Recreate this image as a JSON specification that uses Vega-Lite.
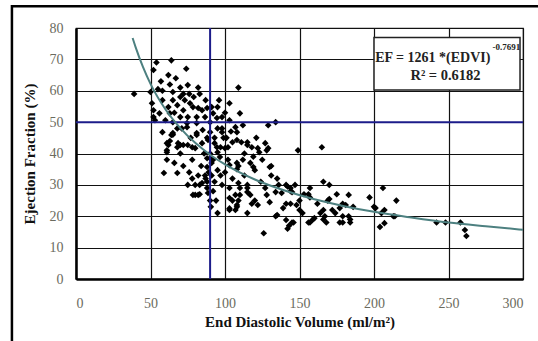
{
  "$schema": "https://vega.github.io/schema/vega-lite/v6.json",
  "width": 447,
  "height": 251,
  "autosize": {"type": "none"},
  "padding": {"left": 76, "top": 28, "right": 15, "bottom": 62},
  "background": "white",
  "config": {
    "view": {"stroke": "#222", "strokeWidth": 1.2},
    "font": "Liberation Serif",
    "axis": {
      "labelFont": "Liberation Serif",
      "titleFont": "Liberation Serif",
      "labelFontSize": 14,
      "labelColor": "#6b6b5e",
      "labelOverlap": false,
      "titleFontSize": 15,
      "titleFontWeight": "bold",
      "titleColor": "#111",
      "gridColor": "#111",
      "gridOpacity": 1,
      "gridWidth": 1.2,
      "domainColor": "#000",
      "domainWidth": 2.5,
      "ticks": false
    },
    "axisY": {"tickCount": 9},
    "axisX": {"tickCount": 7}
  },
  "datasets": {
    "pts": [
      {"edv":39,"ef":59},{"edv":64,"ef":69.7},{"edv":54,"ef":69},{"edv":74,"ef":67},{"edv":62,"ef":65},{"edv":52,"ef":66.6},{"edv":63,"ef":62},{"edv":70,"ef":61},{"edv":75,"ef":61.8},{"edv":82,"ef":61},{"edv":83,"ef":59},{"edv":55,"ef":60.5},{"edv":50,"ef":59.6},{"edv":65,"ef":59.6},{"edv":72,"ef":59},{"edv":76,"ef":59},{"edv":51,"ef":56},{"edv":52,"ef":53.8},{"edv":58,"ef":57},{"edv":65,"ef":57},{"edv":68,"ef":55.4},{"edv":70,"ef":58},{"edv":73,"ef":57},{"edv":76.5,"ef":56},{"edv":78.5,"ef":54.8},{"edv":82,"ef":54.5},{"edv":84.6,"ef":53.8},{"edv":88,"ef":54.5},{"edv":91,"ef":54.8},{"edv":92,"ef":52.8},{"edv":62,"ef":54.8},{"edv":63,"ef":52.8},{"edv":66,"ef":53},{"edv":72,"ef":53.8},{"edv":70,"ef":51.6},{"edv":75,"ef":51.6},{"edv":81,"ef":51.6},{"edv":86.6,"ef":51.6},{"edv":60,"ef":50.6},{"edv":65,"ef":50},{"edv":52,"ef":51.6},{"edv":56,"ef":52.8},{"edv":53,"ef":50.6},{"edv":74.5,"ef":49.7},{"edv":81,"ef":49.7},{"edv":90,"ef":50},{"edv":94.6,"ef":51.3},{"edv":58,"ef":60},{"edv":109,"ef":61},
      {"edv":58,"ef":46.8},{"edv":65,"ef":46},{"edv":74.5,"ef":48.4},{"edv":81,"ef":46.5},{"edv":85,"ef":47.5},{"edv":90,"ef":46.8},{"edv":98,"ef":48},{"edv":61,"ef":43.3},{"edv":70,"ef":42.7},{"edv":78,"ef":42},{"edv":84.6,"ef":43.3},{"edv":88.6,"ef":44.3},{"edv":94.6,"ef":42},{"edv":61,"ef":40.4},{"edv":78,"ef":38},{"edv":90,"ef":40},{"edv":96.6,"ef":38.9},{"edv":103,"ef":36.3},{"edv":108,"ef":37},{"edv":61,"ef":38},{"edv":92,"ef":38},{"edv":88,"ef":38.5},
      {"edv":64,"ef":45.9},{"edv":63,"ef":44},{"edv":68.5,"ef":43.3},{"edv":75,"ef":42.7},{"edv":80,"ef":41.7},{"edv":81,"ef":45.9},{"edv":88,"ef":45},{"edv":90,"ef":38.5},{"edv":91,"ef":37},{"edv":88,"ef":35.7},{"edv":91,"ef":33},{"edv":86.6,"ef":33},{"edv":84.6,"ef":30.6},{"edv":88,"ef":29},{"edv":88.6,"ef":27.4},{"edv":82,"ef":26.8},{"edv":78.5,"ef":26.8},{"edv":90,"ef":25},
      {"edv":61,"ef":41},{"edv":62,"ef":42.7},{"edv":65,"ef":46.5},{"edv":68,"ef":42},{"edv":72,"ef":42.7},{"edv":78,"ef":32},{"edv":75,"ef":30},{"edv":80,"ef":30},{"edv":83,"ef":30},{"edv":80,"ef":26.8},{"edv":88,"ef":31},{"edv":89,"ef":34},{"edv":59,"ef":33.8},{"edv":68,"ef":33.8},
      {"edv":103,"ef":56},{"edv":110,"ef":52.8},{"edv":103,"ef":50.6},{"edv":95,"ef":54.8},{"edv":98,"ef":51.6},{"edv":95,"ef":48},{"edv":98,"ef":46.8},{"edv":99,"ef":45},{"edv":107,"ef":48.4},{"edv":108,"ef":46.8},{"edv":108,"ef":44.3},{"edv":111,"ef":43.6},{"edv":115,"ef":43.6},{"edv":115,"ef":42.7},{"edv":118,"ef":42},{"edv":121,"ef":45},{"edv":122,"ef":41.7},{"edv":127,"ef":43.3},{"edv":128,"ef":41},{"edv":129,"ef":49},{"edv":134,"ef":50},{"edv":93,"ef":45},{"edv":93,"ef":43.3},{"edv":97,"ef":42},{"edv":100,"ef":41.7},{"edv":102,"ef":42},{"edv":105,"ef":43.6},{"edv":101,"ef":45},{"edv":95,"ef":40.4},{"edv":123,"ef":40.4},{"edv":129,"ef":41.7},{"edv":131,"ef":36},{"edv":149,"ef":41},{"edv":165,"ef":42},
      {"edv":95,"ef":34.7},{"edv":97,"ef":33},{"edv":109,"ef":36},{"edv":108,"ef":35},{"edv":119,"ef":35.7},{"edv":120,"ef":34.7},{"edv":130,"ef":35.7},{"edv":131,"ef":33},{"edv":135,"ef":32},{"edv":141,"ef":30},{"edv":142,"ef":29.5},{"edv":145,"ef":27.7},{"edv":103,"ef":29},{"edv":109,"ef":30.6},{"edv":110,"ef":29},{"edv":115,"ef":29},{"edv":115,"ef":27.7},{"edv":107,"ef":26.8},{"edv":103,"ef":25.8},{"edv":109,"ef":25},{"edv":108,"ef":23.6},{"edv":117,"ef":26.8},{"edv":120,"ef":25},{"edv":122,"ef":23.6},{"edv":118,"ef":24},{"edv":103,"ef":22},{"edv":107,"ef":22},{"edv":115,"ef":21},{"edv":95,"ef":21},{"edv":128,"ef":26.8},{"edv":130,"ef":24.5},{"edv":134,"ef":27.7},{"edv":135,"ef":20.4},{"edv":139,"ef":22.6},{"edv":141,"ef":24},{"edv":141,"ef":18.8},{"edv":143,"ef":17},{"edv":126,"ef":14.6},{"edv":138,"ef":27.4},
      {"edv":83,"ef":27},{"edv":87,"ef":32},{"edv":90.5,"ef":23},{"edv":103,"ef":22.5},{"edv":108,"ef":23},{"edv":105,"ef":25},{"edv":110,"ef":26.8},{"edv":115,"ef":30},
      {"edv":102,"ef":38},{"edv":112,"ef":38},{"edv":117,"ef":37},{"edv":125,"ef":38},{"edv":113,"ef":33},{"edv":105,"ef":32},{"edv":92,"ef":28},{"edv":93,"ef":31},{"edv":100,"ef":34},{"edv":124,"ef":31},{"edv":127,"ef":29},{"edv":98,"ef":30},{"edv":113,"ef":40},{"edv":119,"ef":39},{"edv":104,"ef":47},{"edv":112,"ef":49},{"edv":100,"ef":53},{"edv":96,"ef":57},{"edv":87,"ef":57},{"edv":79,"ef":58},{"edv":67,"ef":64},{"edv":57,"ef":63},{"edv":71,"ef":48},{"edv":68,"ef":48},{"edv":77,"ef":45},{"edv":86,"ef":40},{"edv":72,"ef":36},{"edv":76,"ef":34},{"edv":84,"ef":36},{"edv":70,"ef":40},{"edv":66,"ef":37},{"edv":82,"ef":33},{"edv":94,"ef":25},
      {"edv":147,"ef":30},{"edv":144,"ef":28},{"edv":134,"ef":20},{"edv":142,"ef":16},{"edv":146,"ef":18},{"edv":157,"ef":29},{"edv":157,"ef":26},{"edv":156,"ef":18},{"edv":159,"ef":19},{"edv":166,"ef":31},{"edv":170,"ef":30},{"edv":169,"ef":25},{"edv":166,"ef":19},{"edv":168,"ef":18},{"edv":174,"ef":21},{"edv":179,"ef":20},{"edv":183,"ef":26.8},{"edv":181,"ef":23.6},{"edv":184,"ef":19},{"edv":179,"ef":18},{"edv":197,"ef":26},{"edv":206,"ef":29},{"edv":215,"ef":25},{"edv":200,"ef":23},{"edv":207,"ef":22},{"edv":205,"ef":21},{"edv":204,"ef":16.6},{"edv":207,"ef":17.8},{"edv":213,"ef":20},{"edv":214,"ef":20},{"edv":242,"ef":18},{"edv":248,"ef":18},{"edv":258,"ef":18},{"edv":261,"ef":15.6},{"edv":262,"ef":13.7},{"edv":201,"ef":22.6},
      {"edv":156,"ef":27},{"edv":144,"ef":29},{"edv":170,"ef":25.5},{"edv":179,"ef":24},{"edv":177,"ef":22.6},{"edv":166,"ef":22},{"edv":164,"ef":21},{"edv":172,"ef":22},{"edv":167,"ef":20},{"edv":157,"ef":18},{"edv":160,"ef":19.4},{"edv":177,"ef":18},{"edv":183,"ef":20},{"edv":184,"ef":18},{"edv":148,"ef":23.6},{"edv":150,"ef":22},{"edv":152,"ef":21},{"edv":144,"ef":24},{"edv":145,"ef":18},{"edv":136,"ef":30},{"edv":150,"ef":25},{"edv":153,"ef":27},{"edv":162,"ef":24},{"edv":175,"ef":27},{"edv":186,"ef":23}
    ],
    "fit": [
      {"edv":38,"ef":76.8},{"edv":40,"ef":73.9},{"edv":45,"ef":67.5},{"edv":50,"ef":62.2},{"edv":60,"ef":54.1},{"edv":70,"ef":48.1},{"edv":80,"ef":43.4},{"edv":90,"ef":39.6},{"edv":100,"ef":36.5},{"edv":120,"ef":31.7},{"edv":140,"ef":28.2},{"edv":160,"ef":25.4},{"edv":180,"ef":23.2},{"edv":200,"ef":21.4},{"edv":225,"ef":19.6},{"edv":250,"ef":18.0},{"edv":275,"ef":16.8},{"edv":300,"ef":15.7}
    ]
  },
  "layer": [
    {
      "data": {"name": "pts"},
      "mark": {"type": "point", "shape": "diamond", "filled": true, "color": "#000", "size": 44, "opacity": 1},
      "encoding": {
        "x": {"field": "edv", "type": "quantitative", "scale": {"domain": [0, 300], "nice": false, "zero": false},
              "axis": {"values": [0, 50, 100, 150, 200, 250, 300], "tickCount": 7, "title": "End Diastolic Volume (ml/m²)", "labelPadding": 17, "titlePadding": 4, "grid": true}},
        "y": {"field": "ef", "type": "quantitative", "scale": {"domain": [0, 80], "nice": false, "zero": false},
              "axis": {"values": [0, 10, 20, 30, 40, 50, 60, 70, 80], "tickCount": 9, "title": "Ejection Fraction (%)", "labelPadding": 13, "titlePadding": 12, "grid": true}}
      }
    },
    {
      "data": {"values": [{}]},
      "mark": {"type": "rule", "color": "#1c1c8a", "strokeWidth": 2},
      "encoding": {"x": {"datum": 90}, "y": {"datum": 0}, "y2": {"datum": 80}}
    },
    {
      "data": {"values": [{}]},
      "mark": {"type": "rule", "color": "#1c1c8a", "strokeWidth": 2},
      "encoding": {"y": {"datum": 50}, "x": {"datum": 0}, "x2": {"datum": 300}}
    },
    {
      "data": {"name": "fit"},
      "mark": {"type": "line", "color": "#4d8080", "strokeWidth": 2, "interpolate": "monotone"},
      "encoding": {"x": {"field": "edv", "type": "quantitative"}, "y": {"field": "ef", "type": "quantitative"}}
    },
    {
      "data": {"values": [{}]},
      "mark": {"type": "rect", "fill": "white", "stroke": "#222", "strokeWidth": 1.5},
      "encoding": {"x": {"datum": 200}, "x2": {"datum": 298}, "y": {"datum": 77}, "y2": {"datum": 60.2}}
    },
    {
      "data": {"values": [{}]},
      "mark": {"type": "text", "align": "left", "baseline": "middle", "fontWeight": "bold", "fontSize": 14, "font": "Liberation Serif", "color": "#222", "text": "EF = 1261 *(EDVI)"},
      "encoding": {"x": {"datum": 200.8}, "y": {"datum": 70.5}}
    },
    {
      "data": {"values": [{}]},
      "mark": {"type": "text", "align": "left", "baseline": "middle", "fontWeight": "bold", "fontSize": 9, "font": "Liberation Serif", "color": "#222", "text": "-0.7691"},
      "encoding": {"x": {"datum": 279.5}, "y": {"datum": 73.8}}
    },
    {
      "data": {"values": [{}]},
      "mark": {"type": "text", "align": "center", "baseline": "middle", "fontWeight": "bold", "fontSize": 14.5, "font": "Liberation Serif", "color": "#222", "text": "R² = 0.6182"},
      "encoding": {"x": {"datum": 248}, "y": {"datum": 64.8}}
    },
    {
      "data": {"values": [{}]},
      "mark": {"type": "rect", "fill": "transparent", "stroke": "#000", "strokeWidth": 2.5},
      "encoding": {"x": {"datum": -43}, "x2": {"datum": 312}, "y": {"datum": 86.9}, "y2": {"datum": -22}}
    }
  ]
}
